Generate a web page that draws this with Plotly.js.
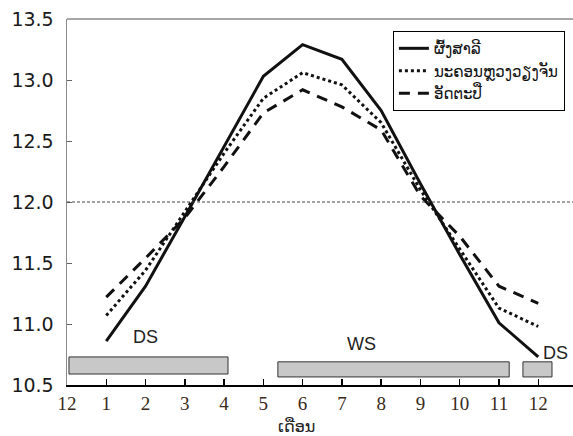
<!DOCTYPE html>
<html>
<head>
<meta charset="utf-8">
<script src="https://cdn.plot.ly/plotly-3.0.1.min.js"></script>
<style>html,body{margin:0;padding:0;background:#fff;}#chart{width:573px;height:436px;}</style>
</head>
<body>
<div id="chart"></div>
<script>
// Months (0 = December of previous year)
var months = [1, 2, 3, 4, 5, 6, 7, 8, 9, 10, 11, 12];
var tickVals = [0, 1, 2, 3, 4, 5, 6, 7, 8, 9, 10, 11, 12];
var tickText = ['12', '1', '2', '3', '4', '5', '6', '7', '8', '9', '10', '11', '12'];

var seriesNames = ['ຜົ້ງສາລີ', 'ນະຄອນຫຼວງວຽງຈັນ', 'ອັດຕະປື'];
var phongsaly = [10.86, 11.31, 11.88, 12.45, 13.03, 13.29, 13.17, 12.75, 12.15, 11.57, 11.01, 10.73];
var vientiane = [11.07, 11.44, 11.92, 12.40, 12.85, 13.06, 12.96, 12.65, 12.10, 11.62, 11.13, 10.98];
var attapeu   = [11.22, 11.54, 11.87, 12.29, 12.73, 12.92, 12.78, 12.59, 12.05, 11.72, 11.31, 11.17];

var refLevel = 12.0;

// Seasons (dry / wet)
var seasonLabels = ['DS', 'WS', 'DS'];
var seasonStart = [0.05, 5.37, 11.61];
var seasonEnd = [4.10, 11.26, 12.35];

var lineStyles = [
  {color: '#111', width: 3, dash: 'solid'},
  {color: '#111', width: 3, dash: 'dot'},
  {color: '#111', width: 3, dash: '11px,8px'}
];
var seriesData = [phongsaly, vientiane, attapeu];

var traces = seriesData.map(function (ys, i) {
  return {
    x: months, y: ys, name: seriesNames[i], type: 'scatter', mode: 'lines',
    line: lineStyles[i]
  };
});

var barY = [[10.59, 10.73], [10.566, 10.69], [10.566, 10.69]];
var labelPos = [[1.99, 10.89], [7.49, 10.84], [12.43, 10.76]];

var shapes = [
  {type: 'line', xref: 'paper', yref: 'y', x0: 0, x1: 1, y0: refLevel, y1: refLevel,
   line: {color: '#444', width: 1, dash: '3px,2px'}},
  {type: 'line', xref: 'paper', yref: 'paper', x0: 0, x1: 1, y0: 1, y1: 1,
   line: {color: '#8a8a8a', width: 1.5}}
];
var annotations = [];
seasonLabels.forEach(function (lab, i) {
  shapes.push({type: 'rect', xref: 'x', yref: 'y', x0: seasonStart[i], x1: seasonEnd[i],
    y0: barY[i][0], y1: barY[i][1], fillcolor: '#c8c8c8', line: {color: '#333', width: 1}});
  annotations.push({x: labelPos[i][0], y: labelPos[i][1], xref: 'x', yref: 'y', text: lab,
    showarrow: false, font: {family: 'Liberation Sans, Arial, sans-serif', size: 18, color: '#222'}});
});
annotations.push({xref: 'paper', yref: 'paper', x: 0.4526, y: -0.113, yanchor: 'middle',
  text: 'ເດືອນ', showarrow: false,
  font: {family: 'DejaVu Sans, Noto Sans, sans-serif', size: 16, color: '#222'}});

var layout = {
  width: 573, height: 436,
  margin: {l: 67, r: 0, t: 19, b: 51},
  paper_bgcolor: '#fff', plot_bgcolor: '#fff',
  showlegend: true,
  legend: {
    x: 0.984, y: 0.967, xanchor: 'right', yanchor: 'top',
    bordercolor: '#000', borderwidth: 1, bgcolor: '#fff',
    font: {family: 'DejaVu Sans, Noto Sans, sans-serif', size: 15, color: '#111'},
    tracegroupgap: 0
  },
  xaxis: {
    range: [0, 12.885], tickvals: tickVals, ticktext: tickText,
    showgrid: false, zeroline: false, automargin: false,
    showline: true, linecolor: '#000', linewidth: 2,
    ticks: 'inside', ticklen: 6, tickcolor: '#000', tickwidth: 1.5,
    ticklabelstandoff: 0,
    tickfont: {family: 'Liberation Serif, DejaVu Serif, Times New Roman, serif', size: 19, color: '#3a2a1a'}
  },
  yaxis: {
    range: [10.5, 13.5], tickvals: [10.5, 11, 11.5, 12, 12.5, 13, 13.5], tickformat: '.1f',
    showgrid: false, zeroline: false, automargin: false,
    showline: true, linecolor: '#8a8a8a', linewidth: 1.5,
    ticks: 'inside', ticklen: 5, tickcolor: '#666', tickwidth: 1,
    ticklabelstandoff: 8,
    tickfont: {family: 'DejaVu Sans, sans-serif', size: 19, color: '#1a1a1a'}
  },
  shapes: shapes,
  annotations: annotations
};

Plotly.newPlot('chart', traces, layout, {displayModeBar: false, staticPlot: true});
</script>
</body>
</html>
